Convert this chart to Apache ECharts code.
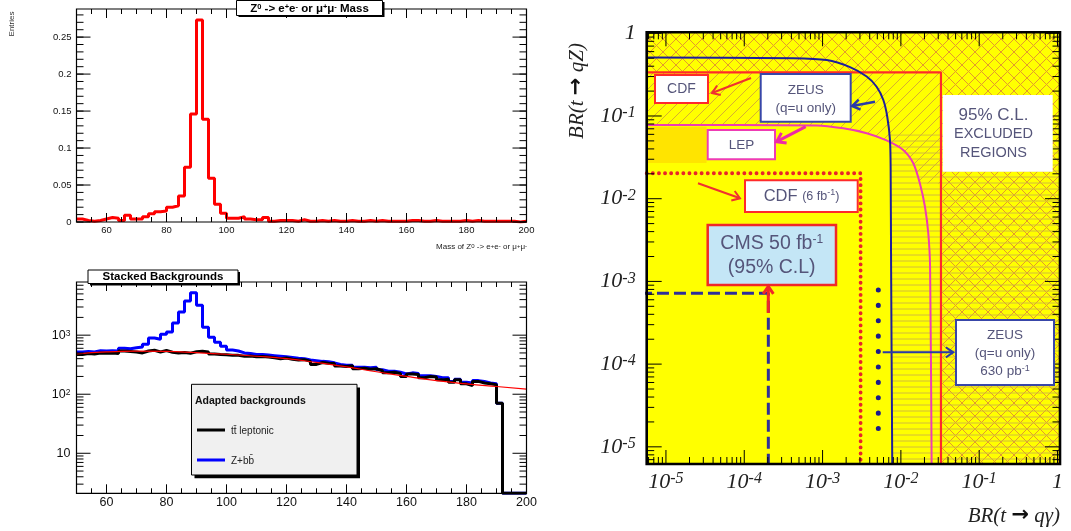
<!DOCTYPE html>
<html><head><meta charset="utf-8">
<script src="https://cdn.jsdelivr.net/npm/echarts@6/dist/echarts.min.js"></script>
<style>html,body{margin:0;padding:0;background:#fff}#c{width:1071px;height:531px}</style>
</head><body><div id="c"></div>
<script>
// ---------------- DATA ----------------
const massBinStart = [50,52,54,56,58,60,62,64,66,68,70,72,74,76,78,80,82,84,86,88,90,92,94,96,98,
 100,102,104,106,108,110,112,114,116,118,120,122,124,126,128,130,132,134,136,138,140,142,144,146,148,
 150,152,154,156,158,160,162,164,166,168,170,172,174,176,178,180,182,184,186,188,190,192,194,196,198];
const massUpperEdge = 200;
const zSignal = [0.004,0.002,0.001,0.002,0.004,0.006,0.005,0.002,0.009,0.004,0.004,0.007,0.011,0.014,0.015,0.020,0.022,0.035,0.074,0.146,0.273,0.139,0.059,0.024,0.012,
 0.005,0.005,0.007,0.004,0.003,0.003,0.006,0.001,0.002,0.002,0.002,0.001,0.003,0.001,0.001,0.002,0.001,0.002,0.001,0.001,0.002,0.001,0.001,0.002,0.001,
 0.002,0.001,0.001,0.001,0.001,0.002,0.002,0.001,0.001,0.002,0.001,0.001,0.001,0.001,0.002,0.001,0.002,0.001,0.001,0.001,0.001,0.001,0.001,0.000,0.001];
const ttbarBg = [470,490,480,500,495,500,490,540,530,520,500,540,555,520,550,515,500,510,495,525,535,520,480,470,465,
 455,455,440,445,430,435,425,415,400,410,390,380,385,360,320,345,335,330,300,295,305,270,275,265,270,
 250,230,235,225,200,220,215,190,200,195,175,180,160,175,150,140,165,155,150,145,70,2.1,2.1,2.1,2.1];
const zbbStack = [520,530,520,545,540,545,540,600,590,610,631,702,898,853,1035,1133,1606,2470,3790,5250,3200,1360,920,760,650,
 560,540,500,490,470,470,460,450,440,430,420,405,400,380,370,360,355,340,320,310,310,285,285,280,285,
 260,245,245,235,220,230,225,205,205,200,190,190,165,180,160,155,170,165,155,150,70,2.1,2.1,2.1,2.1];
const fitMass  = [50,60,70,80,90,100,110,120,130,140,150,160,170,180,190,200];
const fitCount = [480,520,535,530,505,475,440,400,345,290,240,200,170,150,135,122];
const massTickLabels = ['60','80','100','120','140','160','180','200'];
const entriesTickLabels = ['0','0.05','0.1','0.15','0.2','0.25'];
const bgTickLabels = ['10','10^2','10^3'];

// right panel: BR(t->q gamma) vs BR(t->qZ)
const brRange = {xMin:5.68e-6, xMax:1.076, yMin:6.2e-6, yMax:1.028};
const brTickLabels = ['10^-5','10^-4','10^-3','10^-2','10^-1','1'];
const zeusCurve = [[5.68e-6,0.51],[4.2e-4,0.50],[1.13e-3,0.475],[2.24e-3,0.39],[3.66e-3,0.30],[4.9e-3,0.226],[5.97e-3,0.156],[6.7e-3,0.098],[7.26e-3,0.051],[7.4e-3,0.0244],[7.5e-3,1.5e-3],[7.76e-3,6.2e-6]];
const lepCurve  = [[5.68e-6,0.078],[8.4e-4,0.077],[1.84e-3,0.071],[3.66e-3,0.062],[6.46e-3,0.051],[0.0107,0.0388],[0.0144,0.0268],[0.0175,0.0153],[0.0203,8e-3],[0.0224,3.8e-3],[0.0236,1.5e-3],[0.0247,6.2e-6]];
const cdfLimit  = [[5.68e-6,0.337],[0.0325,0.337],[0.0325,6.2e-6]];
const cdf6Limit = [[5.68e-6,0.0203],[3.06e-3,0.0203],[3.06e-3,6.2e-6]];
const cmsLimit  = [[4.66e-6,7.2e-4],[2.03e-4,7.2e-4],[2.03e-4,6.2e-6]];
const zeusDots  = [[5.15e-3,7.9e-4],[5.15e-3,1.12e-5]];

// ---------------- helpers ----------------
const SANS = 'Liberation Sans, Arial, sans-serif';
const SERIF = 'Liberation Serif, Times New Roman, serif';
const R = brRange;

function mkCanvas(w, h, draw){const c=document.createElement('canvas');c.width=w;c.height=h;const g=c.getContext('2d');draw(g,w,h);return c;}
const crossPat = {image: mkCanvas(13,13,(g,w,h)=>{g.strokeStyle='#e39a2c';g.lineWidth=1;g.beginPath();
  g.moveTo(0,0);g.lineTo(w,h);g.moveTo(w,0);g.lineTo(0,h);g.stroke();}), repeat:'repeat'};
const diagPat = {image: mkCanvas(11,11,(g,w,h)=>{g.strokeStyle='#d3a636';g.lineWidth=0.9;g.beginPath();
  g.moveTo(0,h);g.lineTo(w,0);g.moveTo(-2,2);g.lineTo(2,-2);g.moveTo(w-2,h+2);g.lineTo(w+2,h-2);g.stroke();}), repeat:'repeat'};
const horPat = {image: mkCanvas(8,6,(g,w,h)=>{g.strokeStyle='#cdb444';g.lineWidth=0.9;g.beginPath();
  g.moveTo(0,3);g.lineTo(w,3);g.stroke();}), repeat:'repeat'};

const rightRegions = [
  {pts:[[R.xMin,0.074],[3.3e-5,0.074],[3.3e-5,0.027],[R.xMin,0.027]], fill:'#ffe400'},
  {pts:[[R.xMin,R.yMax],[R.xMax,R.yMax],[R.xMax,R.yMin],[0.0325,R.yMin],[0.0325,0.337],[R.xMin,0.337]], fill:crossPat},
  {pts:[[R.xMin,0.337],[0.0325,0.337],[0.0325,0.0153],[0.0175,0.0153],[0.0144,0.0268],[0.0107,0.0388],[6.46e-3,0.051],[3.66e-3,0.062],[1.84e-3,0.071],[8.4e-4,0.077],[R.xMin,0.078]], fill:diagPat},
  {pts:[[7.1e-3,0.06],[7.26e-3,0.051],[7.4e-3,0.0244],[7.5e-3,1.5e-3],[7.76e-3,R.yMin],[R.xMax,R.yMin],[R.xMax,0.06]], fill:horPat}
];

function histData(vals){const d=massBinStart.map((x,i)=>[x,vals[i]]);d.push([massUpperEdge,vals[vals.length-1]]);return d;}

// tick marks (axis decoration)
function linTicks(a,b,step){const o=[];for(let v=a;v<=b+1e-9;v+=step)o.push(+v.toFixed(6));return o;}
function logMinor(lo,hi){const o=[];for(let k=-7;k<=4;k++){for(let m=2;m<=9;m++){const v=m*Math.pow(10,k);if(v>lo&&v<hi)o.push(v);}}return o;}
function logMajor(lo,hi){const o=[];for(let k=-7;k<=4;k++){const v=Math.pow(10,k);if(v>=lo*0.999&&v<=hi*1.001)o.push(v);}return o;}
function tickData(xMaj,xMin_,yMaj,yMin_,x0,y0,lens,frameW){
  const d=[];
  xMaj.forEach(v=>d.push([v,y0,0,lens[0],1]));
  xMin_.forEach(v=>d.push([v,y0,0,lens[1],1]));
  yMaj.forEach(v=>d.push([x0,v,1,lens[2],1]));
  yMin_.forEach(v=>d.push([x0,v,1,lens[3],1]));
  d.push([x0,y0,2,0,frameW]);
  return d;
}
function tickRender(params, api){
  const cs=params.coordSys; const kind=api.value(2); const len=api.value(3); const w=api.value(4);
  const st={stroke:'#000',lineWidth:w};
  if(kind===0){const p=api.coord([api.value(0),api.value(1)])[0];
    return {type:'group',children:[{type:'line',shape:{x1:p,y1:cs.y+cs.height,x2:p,y2:cs.y+cs.height-len},style:st},
      {type:'line',shape:{x1:p,y1:cs.y,x2:p,y2:cs.y+len},style:st}]};}
  if(kind===1){const p=api.coord([api.value(0),api.value(1)])[1];
    return {type:'group',children:[{type:'line',shape:{x1:cs.x,y1:p,x2:cs.x+len,y2:p},style:st},
      {type:'line',shape:{x1:cs.x+cs.width,y1:p,x2:cs.x+cs.width-len,y2:p},style:st}]};}
  return {type:'rect',shape:{x:cs.x,y:cs.y,width:cs.width,height:cs.height},style:{fill:'none',stroke:'#000',lineWidth:w}};
}
function isPow10(v){const l=Math.log10(v);return Math.abs(l-Math.round(l))<1e-6;}

// ---------------- option ----------------
const option = {
  animation:false,
  backgroundColor:'#fff',
  grid:[
    {left:76.5, top:9, width:450, height:213, outerBoundsMode:'none'},
    {left:76.5, top:282, width:450, height:211.3, outerBoundsMode:'none'},
    {left:646.7, top:32.3, width:413.3, height:431.7, outerBoundsMode:'none', show:true, backgroundColor:'#ffff00', borderWidth:0}
  ],
  xAxis:[
    {gridIndex:0,type:'value',min:50,max:200,interval:10,axisLine:{show:false},axisTick:{show:false},splitLine:{show:false},
      axisLabel:{margin:3,fontSize:9.5,fontFamily:SANS,color:'#111',showMinLabel:true,showMaxLabel:true,
        formatter:v=>massTickLabels.includes(String(Math.round(v)))?String(Math.round(v)):''}},
    {gridIndex:1,type:'value',min:50,max:200,interval:10,axisLine:{show:false},axisTick:{show:false},splitLine:{show:false},
      axisLabel:{margin:3,fontSize:12.5,fontFamily:SANS,color:'#111',
        formatter:v=>massTickLabels.includes(String(Math.round(v)))?String(Math.round(v)):''}},
    {gridIndex:2,type:'log',min:R.xMin,max:R.xMax,axisLine:{show:false},axisTick:{show:false},splitLine:{show:false},
      axisLabel:{margin:7,color:'#222',
        formatter:v=>{if(!isPow10(v))return '';const t=brTickLabels[Math.round(Math.log10(v))+5];if(!t)return '';
          return t==='1'?'{b|1}':'{b|10}{s|'+t.slice(3)+'}';},
        rich:{b:{fontFamily:SERIF,fontStyle:'italic',fontSize:22,color:'#222'},s:{fontFamily:SERIF,fontStyle:'italic',fontSize:16,color:'#222',verticalAlign:'top'}}}}
  ],
  yAxis:[
    {gridIndex:0,type:'value',min:0,max:0.288,interval:0.05,axisLine:{show:false},axisTick:{show:false},splitLine:{show:false},
      axisLabel:{margin:5,fontSize:9.5,fontFamily:SANS,color:'#111',
        formatter:v=>{const s=String(+v.toFixed(3));return entriesTickLabels.includes(s)?s:'';}}},
    {gridIndex:1,type:'log',min:2.1,max:7950,axisLine:{show:false},axisTick:{show:false},splitLine:{show:false},
      axisLabel:{margin:6,color:'#111',
        formatter:v=>{if(!isPow10(v))return '';const e=Math.round(Math.log10(v));const t=bgTickLabels[e-1];if(!t)return '';
          return e===1?'{b|10}':'{b|10}{s|'+e+'}';},
        rich:{b:{fontFamily:SANS,fontSize:12.5,color:'#111'},s:{fontFamily:SANS,fontSize:8.5,color:'#111',verticalAlign:'top'}}}},
    {gridIndex:2,type:'log',min:R.yMin,max:R.yMax,axisLine:{show:false},axisTick:{show:false},splitLine:{show:false},
      axisLabel:{margin:11,color:'#222',
        formatter:v=>{if(!isPow10(v))return '';const t=brTickLabels[Math.round(Math.log10(v))+5];if(!t)return '';
          return t==='1'?'{b|1}':'{b|10}{s|'+t.slice(3)+'}';},
        rich:{b:{fontFamily:SERIF,fontStyle:'italic',fontSize:22,color:'#222'},s:{fontFamily:SERIF,fontStyle:'italic',fontSize:16,color:'#222',verticalAlign:'top'}}}}
  ],
  series:[
    {type:'line',xAxisIndex:0,yAxisIndex:0,step:'end',showSymbol:false,data:histData(zSignal),lineStyle:{color:'#ff0000',width:3},z:3},
    {type:'line',xAxisIndex:1,yAxisIndex:1,step:'end',showSymbol:false,data:histData(zbbStack),lineStyle:{color:'#0000ff',width:3},z:3},
    {type:'line',xAxisIndex:1,yAxisIndex:1,step:'end',showSymbol:false,data:histData(ttbarBg),lineStyle:{color:'#000000',width:3},z:4},
    {type:'line',xAxisIndex:1,yAxisIndex:1,smooth:true,showSymbol:false,data:fitMass.map((x,i)=>[x,fitCount[i]]),lineStyle:{color:'#ff0000',width:1.2},z:5},
    {type:'custom',xAxisIndex:2,yAxisIndex:2,z:1,silent:true,
      data:rightRegions.map((r,i)=>[r.pts[0][0],r.pts[0][1],i]),encode:{x:0,y:1},
      renderItem:(params,api)=>{const r=rightRegions[api.value(2)];return {type:'polygon',shape:{points:r.pts.map(p=>api.coord(p))},style:{fill:r.fill,stroke:null}};}},
    {type:'line',xAxisIndex:2,yAxisIndex:2,showSymbol:false,data:cdfLimit,lineStyle:{color:'#ff2a2a',width:2.2},z:3},
    {type:'line',xAxisIndex:2,yAxisIndex:2,showSymbol:false,smooth:0.25,data:lepCurve,lineStyle:{color:'#ee3cb4',width:2},z:3},
    {type:'line',xAxisIndex:2,yAxisIndex:2,showSymbol:false,smooth:0.25,data:zeusCurve,lineStyle:{color:'#1e1e9a',width:2},z:3},
    {type:'line',xAxisIndex:2,yAxisIndex:2,showSymbol:false,data:cdf6Limit,lineStyle:{color:'#e8242a',width:3.8,type:[0.1,6],cap:'round'},z:3},
    {type:'line',xAxisIndex:2,yAxisIndex:2,showSymbol:false,data:zeusDots,lineStyle:{color:'#1a1a8c',width:5,type:[0.1,15.3],cap:'round'},z:3},
    {type:'line',xAxisIndex:2,yAxisIndex:2,showSymbol:false,clip:false,data:cmsLimit,lineStyle:{color:'#2e2e9a',width:3,type:[12,5]},z:3},
    {type:'custom',xAxisIndex:0,yAxisIndex:0,z:6,silent:true,encode:{x:0,y:1},renderItem:tickRender,
      data:tickData(linTicks(60,200,20),linTicks(50,200,5),linTicks(0,0.25,0.05),linTicks(0,0.28,0.01),50,0,[9,5,14,7],1.2)},
    {type:'custom',xAxisIndex:1,yAxisIndex:1,z:6,silent:true,encode:{x:0,y:1},renderItem:tickRender,
      data:tickData(linTicks(60,200,20),linTicks(50,200,5),logMajor(2.1,7950),logMinor(2.1,7950),50,2.1,[9,5,14,7],1.2)},
    {type:'custom',xAxisIndex:2,yAxisIndex:2,z:6,silent:true,encode:{x:0,y:1},renderItem:tickRender,
      data:tickData(logMajor(R.xMin,R.xMax),logMinor(R.xMin,R.xMax),logMajor(R.yMin,R.yMax),logMinor(R.yMin,R.yMax),R.xMin,R.yMin,[14,7,15,7.5],2.6)}
  ]
};

// ---------------- annotations ----------------
const G = [];
function rect(x,y,w,h,fill,stroke,lw){G.push({type:'rect',z:100,shape:{x,y,width:w,height:h},style:{fill:fill,stroke:stroke||null,lineWidth:lw||0}});}
function text(x,y,t,st,rot){const e={type:'text',z:110,x,y,style:Object.assign({text:t,fill:'#55557a',fontFamily:SANS,fontSize:13,align:'center',verticalAlign:'middle',textAlign:'center',textVerticalAlign:'middle'},st||{})};if(rot)e.rotation=rot;G.push(e);}
function arrow(x1,y1,x2,y2,color,w,h){const a=Math.atan2(y2-y1,x2-x1);h=h||9;const s=0.6;
  G.push({type:'line',z:105,shape:{x1,y1,x2,y2},style:{stroke:color,lineWidth:w}});
  G.push({type:'polyline',z:105,shape:{points:[[x2-h*Math.cos(a-s),y2-h*Math.sin(a-s)],[x2,y2],[x2-h*Math.cos(a+s),y2-h*Math.sin(a+s)]]},style:{stroke:color,lineWidth:w,fill:null}});}

// left panels
text(12,24,'Entries',{fill:'#333',fontSize:8},Math.PI/2);
rect(238.5,2,146,15,'#000');
rect(236.5,0.5,146,15,'#fff','#000',1);
const bRich = {a:{fontFamily:SANS,fontWeight:'bold',fontSize:11.5,fill:'#000',color:'#000'},s:{fontFamily:SANS,fontWeight:'bold',fontSize:7.5,fill:'#000',color:'#000',verticalAlign:'top'}};
text(309.5,8.5,'{a|Z}{s|0}{a| -> e}{s|+}{a|e}{s|-}{a| or μ}{s|+}{a|μ}{s|-}{a| Mass}',{fill:'#000',rich:bRich});
text(527,247,'{a|Mass of Z}{s|0}{a| -> e}{s|+}{a|e}{s|-}{a| or μ}{s|+}{a|μ}{s|-}',{fill:'#222',align:'right',textAlign:'right',
  rich:{a:{fontFamily:SANS,fontSize:8,fill:'#222',color:'#222'},s:{fontFamily:SANS,fontSize:6,fill:'#222',color:'#222',verticalAlign:'top'}}});
rect(90,272,150,13.5,'#000');
rect(88,270,150,13.5,'#fff','#000',1);
text(163,277,'Stacked Backgrounds',{fill:'#000',fontWeight:'bold',fontSize:11.5});
rect(194.5,387.5,165.5,90.7,'#000');
rect(191.5,384.3,165.5,90.7,'#f0f0f0','#000',1);
text(195,401,'Adapted backgrounds',{fill:'#111',fontWeight:'bold',fontSize:10.5,align:'left',textAlign:'left'});
G.push({type:'line',z:105,shape:{x1:197,y1:430,x2:225,y2:430},style:{stroke:'#000',lineWidth:3}});
G.push({type:'line',z:105,shape:{x1:197,y1:460,x2:225,y2:460},style:{stroke:'#0000ff',lineWidth:3}});
text(231,431,'tt\u0304 leptonic',{fill:'#222',fontSize:10,align:'left',textAlign:'left'});
text(231,461,'Z+bb\u0304',{fill:'#222',fontSize:10,align:'left',textAlign:'left'});

// right panel boxes
const TC = '#55557a';
rect(655,75,53,28,'#fff','#ff2a2a',2);
text(681.5,89.5,'CDF',{fontSize:14});
rect(760.7,74,90,47.7,'#fff','#3846a8',2);
text(805.7,90,'ZEUS',{fontSize:13.5});
text(805.7,108.7,'(q=u only)',{fontSize:13.5});
rect(707.7,130,67.3,29.3,'#fff','#ee3cb4',2);
text(741.5,145.5,'LEP',{fontSize:13.5});
rect(942.7,95,110,76.7,'#fff');
text(993.5,115,'95% C.L.',{fontSize:17});
text(993.5,134,'EXCLUDED',{fontSize:14.5});
text(993.5,152.5,'REGIONS',{fontSize:14.5});
rect(745,180.3,112.7,31.7,'#fff','#ff2a2a',2);
text(801.5,196.5,'{a|CDF }{b|(6 fb}{s|-1}{b|)}',{rich:{a:{fontFamily:SANS,fontSize:16.5,fill:TC,color:TC},b:{fontFamily:SANS,fontSize:12.5,fill:TC,color:TC},s:{fontFamily:SANS,fontSize:9,fill:TC,color:TC,verticalAlign:'top'}}});
rect(707.7,225,128.3,60,'#c4e6f6','#f02828',2.5);
text(771.7,243.5,'{a|CMS 50 fb}{s|-1}',{rich:{a:{fontFamily:SANS,fontSize:19.5,fill:TC,color:TC},s:{fontFamily:SANS,fontSize:12,fill:TC,color:TC,verticalAlign:'top'}}});
text(771.7,268,'(95% C.L)',{fontSize:19.5});
rect(956,320,98,65,'#fff','#3846a8',2);
text(1005,335,'ZEUS',{fontSize:13.5});
text(1005,353.5,'(q=u only)',{fontSize:13.5});
text(1005,371.5,'{a|630 pb}{s|-1}',{rich:{a:{fontFamily:SANS,fontSize:13.5,fill:TC,color:TC},s:{fontFamily:SANS,fontSize:9,fill:TC,color:TC,verticalAlign:'top'}}});

arrow(751,78,712,93,'#f03030',2,9);
arrow(875,101.7,852.3,106,'#2a3aa8',2.5,9);
arrow(805.7,126.7,776.7,141.7,'#ee2aa8',3,10);
arrow(698,183.3,740,198.3,'#f03030',2,9);
arrow(882.7,352.3,953.3,352.3,'#2a3aa8',2,9);
arrow(768.3,313,768.3,286.5,'#f02828',3,9);

// right axis titles
const axRich = {i:{fontFamily:SERIF,fontStyle:'italic',fontSize:21,fill:'#222',color:'#222'},a:{fontFamily:'DejaVu Sans, sans-serif',fontWeight:'bold',fontSize:21,fill:'#111',color:'#111'}};
text(577,91,'{i|BR(t }{a|→}{i| qZ)}',{fill:'#222',rich:axRich},Math.PI/2);
text(1060,516,'{i|BR(t }{a|→}{i| qγ)}',{fill:'#222',align:'right',textAlign:'right',rich:axRich});

option.graphic = {elements:G};

const chart = echarts.init(document.getElementById('c'), null, {renderer:'canvas'});
chart.setOption(option);
</script>
</body></html>
